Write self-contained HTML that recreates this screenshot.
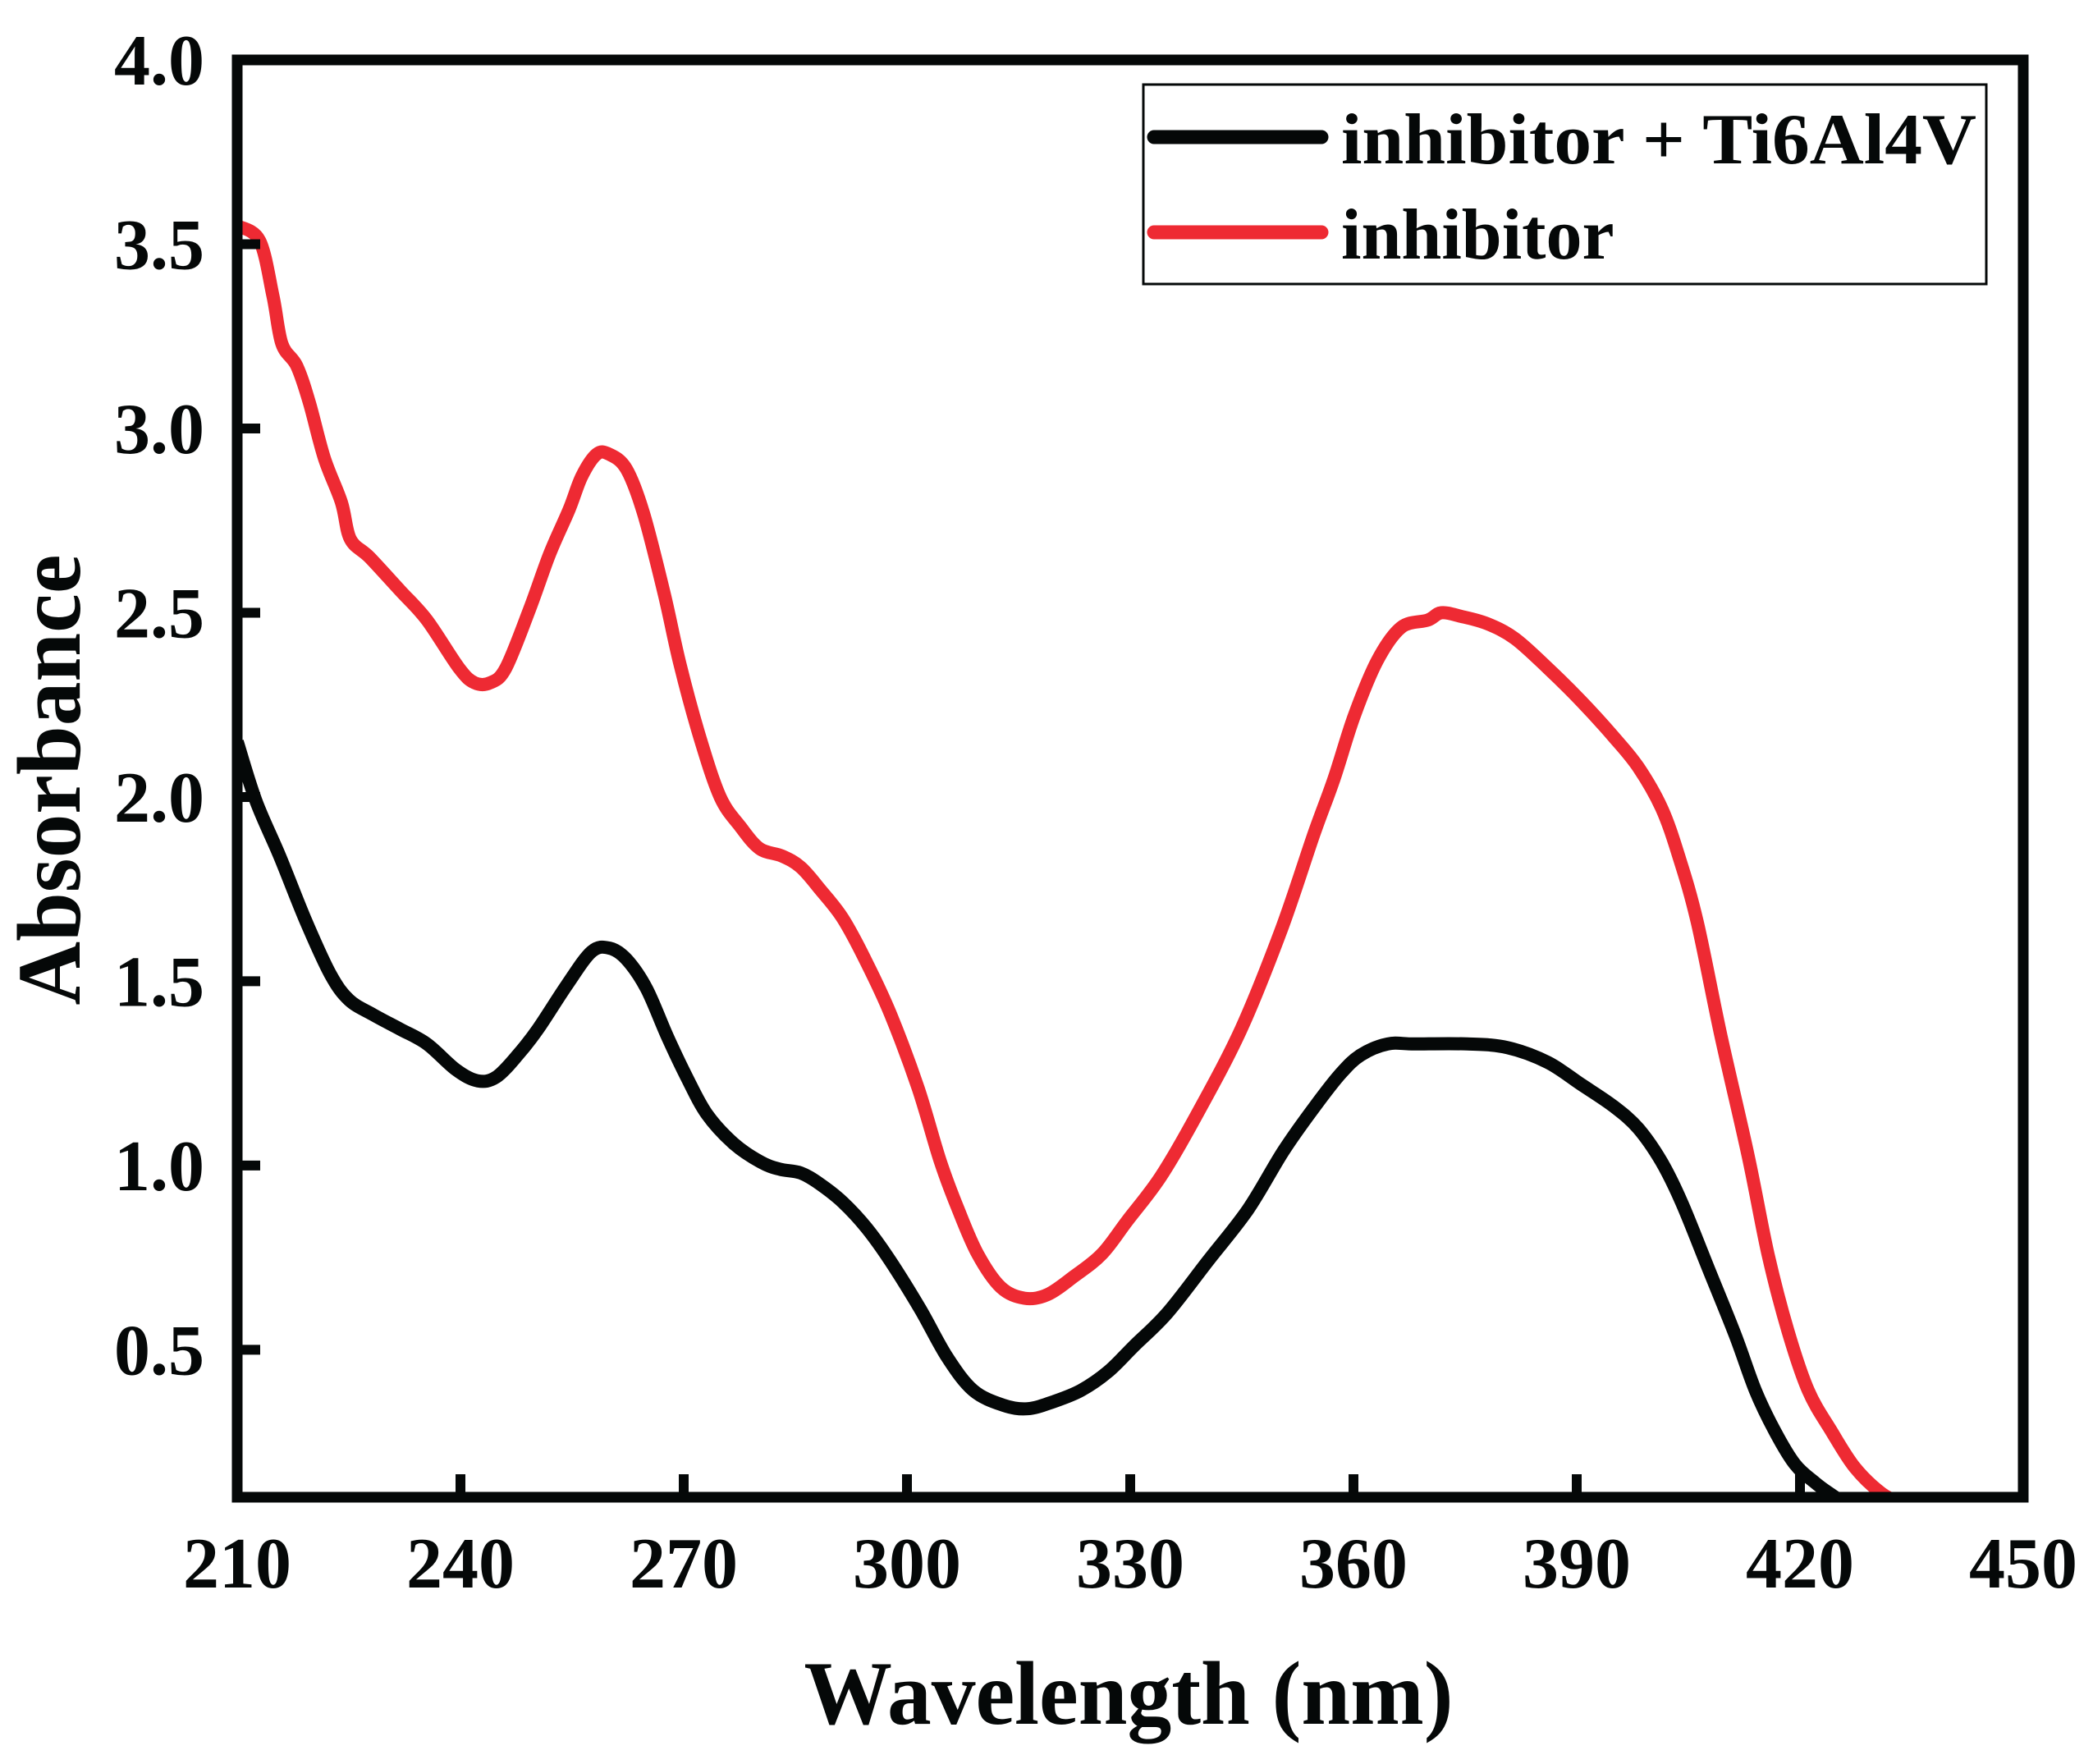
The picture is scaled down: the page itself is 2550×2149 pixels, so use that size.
<!DOCTYPE html>
<html><head><meta charset="utf-8"><style>
html,body{margin:0;padding:0;background:#fff;}
svg{display:block;}
text{font-family:"Liberation Serif",serif;font-weight:bold;fill:#050808;}
</style></head>
<body>
<svg id="chart" width="2550" height="2149" viewBox="0 0 2550 2149" xmlns="http://www.w3.org/2000/svg">
<rect width="2550" height="2149" fill="#fff"/>
<defs><clipPath id="plotclip"><rect x="289" y="73" width="2176" height="1751"/></clipPath></defs>
<g id="series" clip-path="url(#plotclip)"></g>
<g id="axes"></g>
<text x="1375" y="2100" font-size="110" text-anchor="middle" textLength="791" lengthAdjust="spacingAndGlyphs">Wavelength (nm)</text>
<text transform="translate(97,950) rotate(-90)" font-size="110" text-anchor="middle" textLength="549" lengthAdjust="spacingAndGlyphs">Absorbance</text>
<g>
<rect x="1393" y="103" width="1027" height="243" fill="#fff" stroke="#050808" stroke-width="3"/>
<line x1="1406" y1="167" x2="1610" y2="167" stroke="#050808" stroke-width="17" stroke-linecap="round"/>
<text x="1634" y="199" font-size="88" textLength="774" lengthAdjust="spacingAndGlyphs">inhibitor + Ti6Al4V</text>
<line x1="1406" y1="283" x2="1610" y2="283" stroke="#ee2a33" stroke-width="17" stroke-linecap="round"/>
<text x="1634" y="315" font-size="88">inhibitor</text>
</g>
</svg>
<script>
const xTicks = [210, 240, 270, 300, 330, 360, 390, 420, 450];
const yTicks = [0.5, 1.0, 1.5, 2.0, 2.5, 3.0, 3.5, 4.0];
const inhibitorX = [210,213,214.8,216,218,219.7,221.7,224,225.2,227.8,231.9,235.5,239.8,241.9,244,246.1,249.3,252,254.6,256.3,258.3,260,262.3,264.6,267.4,269.5,272.2,274.9,277.6,280.2,283.2,285.7,288.3,291.4,294.6,297.8,301.5,304.5,306.9,309.5,312.6,315.8,318.9,322.5,326.2,329.6,334.1,339,344.9,350.3,354.7,357.4,360.1,363.2,366.4,370,371.8,374.5,378,381.7,386.1,390.6,395.1,398.3,401.4,403.7,406.2,409.4,413,415.7,418.4,421.1,424.2,427.4,431,434];
const inhibitorY = [3.55,3.51,3.36,3.23,3.17,3.07,2.92,2.80,2.70,2.65,2.56,2.48,2.35,2.31,2.31,2.35,2.51,2.66,2.78,2.87,2.93,2.93,2.89,2.77,2.55,2.36,2.16,2.00,1.92,1.86,1.84,1.81,1.75,1.67,1.55,1.41,1.21,1.01,0.88,0.76,0.67,0.64,0.65,0.70,0.76,0.85,0.97,1.14,1.37,1.64,1.90,2.05,2.22,2.37,2.46,2.48,2.50,2.49,2.47,2.43,2.35,2.26,2.16,2.08,1.97,1.84,1.66,1.35,1.03,0.76,0.55,0.39,0.28,0.18,0.11,0.08];
const withAlloyX = [210,212.5,215.7,219.3,222.5,225,228.2,231.9,235.5,239.4,242.3,244.8,247.7,250.4,254.3,257.6,260,262.3,265,267.8,270.4,273.1,276.7,280.3,282.9,285.7,288.3,291.4,294.6,297.8,301.8,305.4,308.9,312.9,316.2,319.8,323.4,327,330.5,335,340.4,345.8,350.6,354.8,358.3,361,364.6,368.2,375.3,380.7,386.1,390.6,395,398.3,401.4,404.1,407.7,411.3,414,416.6,419.3,422,424,427];
const withAlloyY = [2.15,1.99,1.84,1.66,1.52,1.45,1.41,1.37,1.33,1.26,1.23,1.24,1.30,1.37,1.49,1.58,1.59,1.56,1.48,1.35,1.24,1.14,1.06,1.01,0.99,0.98,0.95,0.90,0.83,0.74,0.61,0.48,0.39,0.35,0.34,0.36,0.39,0.44,0.51,0.60,0.74,0.88,1.04,1.16,1.25,1.30,1.33,1.33,1.33,1.32,1.28,1.22,1.16,1.10,1.01,0.90,0.72,0.54,0.39,0.28,0.19,0.14,0.11,0.07];

const NS = 'http://www.w3.org/2000/svg';
const X0 = 289, X1 = 2465, Y0 = 1824, Y1 = 73;
const xMin = 210, xMax = 450, yMin = 0.1, yMax = 4.0;
function sx(v){ return X0 + (v - xMin) / (xMax - xMin) * (X1 - X0); }
function sy(v){ return Y0 - (v - yMin) / (yMax - yMin) * (Y0 - Y1); }

function smoothPath(xs, ys){
  const p = xs.map((x,i)=>[sx(x), sy(ys[i])]);
  let d = 'M' + p[0][0].toFixed(1) + ',' + p[0][1].toFixed(1);
  for (let i = 0; i < p.length - 1; i++){
    const a = p[Math.max(0,i-1)], b = p[i], c = p[i+1], e = p[Math.min(p.length-1,i+2)];
    const c1x = b[0] + (c[0]-a[0])/6, c1y = b[1] + (c[1]-a[1])/6;
    const c2x = c[0] - (e[0]-b[0])/6, c2y = c[1] - (e[1]-b[1])/6;
    d += ' C' + c1x.toFixed(1)+','+c1y.toFixed(1)+' '+c2x.toFixed(1)+','+c2y.toFixed(1)+' '+c[0].toFixed(1)+','+c[1].toFixed(1);
  }
  return d;
}

const series = document.getElementById('series');
const red = document.createElementNS(NS,'path');
red.setAttribute('d', smoothPath(inhibitorX, inhibitorY));
red.setAttribute('fill','none');
red.setAttribute('stroke','#ee2a33');
red.setAttribute('stroke-width','16');
red.setAttribute('stroke-linejoin','round');


series.appendChild(red);

const blk = document.createElementNS(NS,'path');
blk.setAttribute('d', smoothPath(withAlloyX, withAlloyY));
blk.setAttribute('fill','none');
blk.setAttribute('stroke','#050808');
blk.setAttribute('stroke-width','16');
blk.setAttribute('stroke-linejoin','round');


series.appendChild(blk);

const axes = document.getElementById('axes');
const frame = document.createElementNS(NS,'rect');
frame.setAttribute('x', X0); frame.setAttribute('y', Y1);
frame.setAttribute('width', X1-X0); frame.setAttribute('height', Y0-Y1);
frame.setAttribute('fill','none'); frame.setAttribute('stroke','#050808'); frame.setAttribute('stroke-width','13');


axes.appendChild(frame);

xTicks.forEach(v=>{
  const x = sx(v);
  if (v !== xMin && v !== xMax){
    const t = document.createElementNS(NS,'line');
    t.setAttribute('x1',x); t.setAttribute('x2',x);
    t.setAttribute('y1',Y0); t.setAttribute('y2',Y0-28);
    t.setAttribute('stroke','#050808'); t.setAttribute('stroke-width','12');
    
    
    axes.appendChild(t);
  }
  const l = document.createElementNS(NS,'text');
  l.setAttribute('x',x); l.setAttribute('y',1934);
  l.setAttribute('font-size','88'); l.setAttribute('text-anchor','middle');
  l.textContent = String(v);
  
  
  axes.appendChild(l);
});
yTicks.forEach(v=>{
  const y = sy(v);
  if (v !== yMax){
    const t = document.createElementNS(NS,'line');
    t.setAttribute('x1',X0); t.setAttribute('x2',X0+28);
    t.setAttribute('y1',y); t.setAttribute('y2',y);
    t.setAttribute('stroke','#050808'); t.setAttribute('stroke-width','12');
    
    
    axes.appendChild(t);
  }
  const l = document.createElementNS(NS,'text');
  l.setAttribute('x',249); l.setAttribute('y',y+30);
  l.setAttribute('font-size','88'); l.setAttribute('text-anchor','end');
  l.textContent = v.toFixed(1);
  
  
  axes.appendChild(l);
});
</script>
</body></html>
